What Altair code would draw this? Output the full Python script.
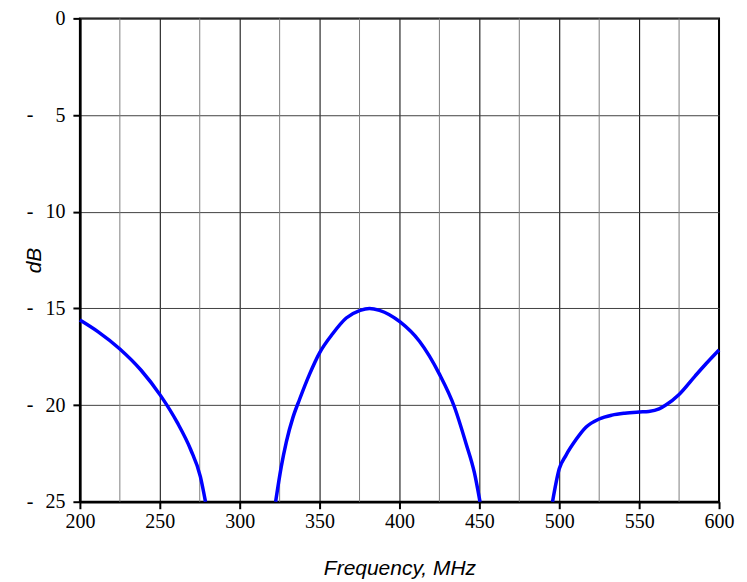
import altair as alt
import pandas as pd

# Curve segments (Frequency MHz, dB)
seg1_f = [200, 211.25, 225, 238.3, 250.4, 260.9, 269.3, 275.4, 278.6]
seg1_db = [-15.6, -16.2, -17.1, -18.2, -19.5, -20.9, -22.3, -23.7, -25.0]

seg2_f = [322.5, 326, 329.2, 333.3, 337.5, 343.75, 350, 358.3, 366.7, 375.4, 381.25,
          387.5, 400.4, 412.5, 425, 434.4, 441.7, 446.9, 450.4]
seg2_db = [-25.0, -23.2, -21.9, -20.65, -19.7, -18.4, -17.3, -16.3, -15.5, -15.1, -15.0,
           -15.1, -15.7, -16.7, -18.4, -20.1, -22.0, -23.5, -25.0]

seg3_f = [495.8, 500, 504.2, 510.4, 516.7, 525, 533, 541, 550, 556, 562.5, 566.7, 575,
          585, 592, 600]
seg3_db = [-25.0, -23.3, -22.6, -21.8, -21.15, -20.72, -20.52, -20.42, -20.36, -20.33,
           -20.2, -20.0, -19.45, -18.5, -17.85, -17.15]

x_major = [200, 250, 300, 350, 400, 450, 500, 550, 600]
x_minor = [225, 275, 325, 375, 425, 475, 525, 575]
y_ticks = [0, -5, -10, -15, -20, -25]
y_neg = [-5, -10, -15, -20, -25]

rows = []
for name, fs, ds in [("a", seg1_f, seg1_db), ("b", seg2_f, seg2_db), ("c", seg3_f, seg3_db)]:
    for f, d in zip(fs, ds):
        rows.append({"seg": name, "f": f, "db": d})
df = pd.DataFrame(rows)

xscale = alt.Scale(domain=[200, 600], nice=False, zero=False)
yscale = alt.Scale(domain=[-25, 0], nice=False, zero=False)

label_font = "Liberation Serif"
title_font = "Liberation Sans"

minor = alt.Chart(pd.DataFrame({"f": x_minor})).mark_rule(
    color="#808080", strokeWidth=1
).encode(x=alt.X("f:Q", scale=xscale))

base = alt.Chart(df).encode(
    x=alt.X("f:Q", scale=xscale, title="Frequency, MHz",
            axis=alt.Axis(values=x_major, grid=True, gridColor="#000000", gridWidth=1,
                          gridOpacity=1, tickSize=7, tickColor="#000000", tickWidth=2,
                          domainColor="#000000", domainWidth=2.5,
                          labelFont=label_font, labelFontSize=20, labelColor="#000000",
                          labelPadding=3, titleFont=title_font, titleFontSize=21,
                          titleFontStyle="italic", titleFontWeight="normal",
                          titleColor="#000000", titlePadding=26, labelFlush=False)),
    y=alt.Y("db:Q", scale=yscale, title="dB",
            axis=alt.Axis(values=y_ticks, grid=True, gridColor="#404040", gridWidth=1,
                          gridOpacity=1, tickSize=7, tickColor="#000000", tickWidth=2,
                          domainColor="#000000", domainWidth=2.5,
                          labelExpr="abs(datum.value)",
                          labelFont=label_font, labelFontSize=20, labelColor="#000000",
                          labelPadding=8, titleFont=title_font, titleFontSize=21,
                          titleFontStyle="italic", titleFontWeight="normal",
                          titleColor="#000000", titlePadding=0, labelFlush=False)),
)

line = base.mark_line(color="#0000FF", strokeWidth=3.5, interpolate="monotone").encode(detail="seg:N")

dashes = alt.Chart(pd.DataFrame({"v": y_neg})).mark_text(
    text="-", font=label_font, fontSize=20, color="#000000", align="center", baseline="middle"
).encode(x=alt.value(-50), y=alt.Y("v:Q", scale=yscale))

chart = alt.layer(minor, line, dashes).properties(
    width=640, height=484,
    autosize=alt.AutoSizeParams(type="none"),
    padding={"left": 72, "top": 10, "right": 20, "bottom": 79},
).configure_view(stroke="#000000", strokeWidth=2)

chart.save("out.html", embed_options={"renderer": "svg", "actions": False})
